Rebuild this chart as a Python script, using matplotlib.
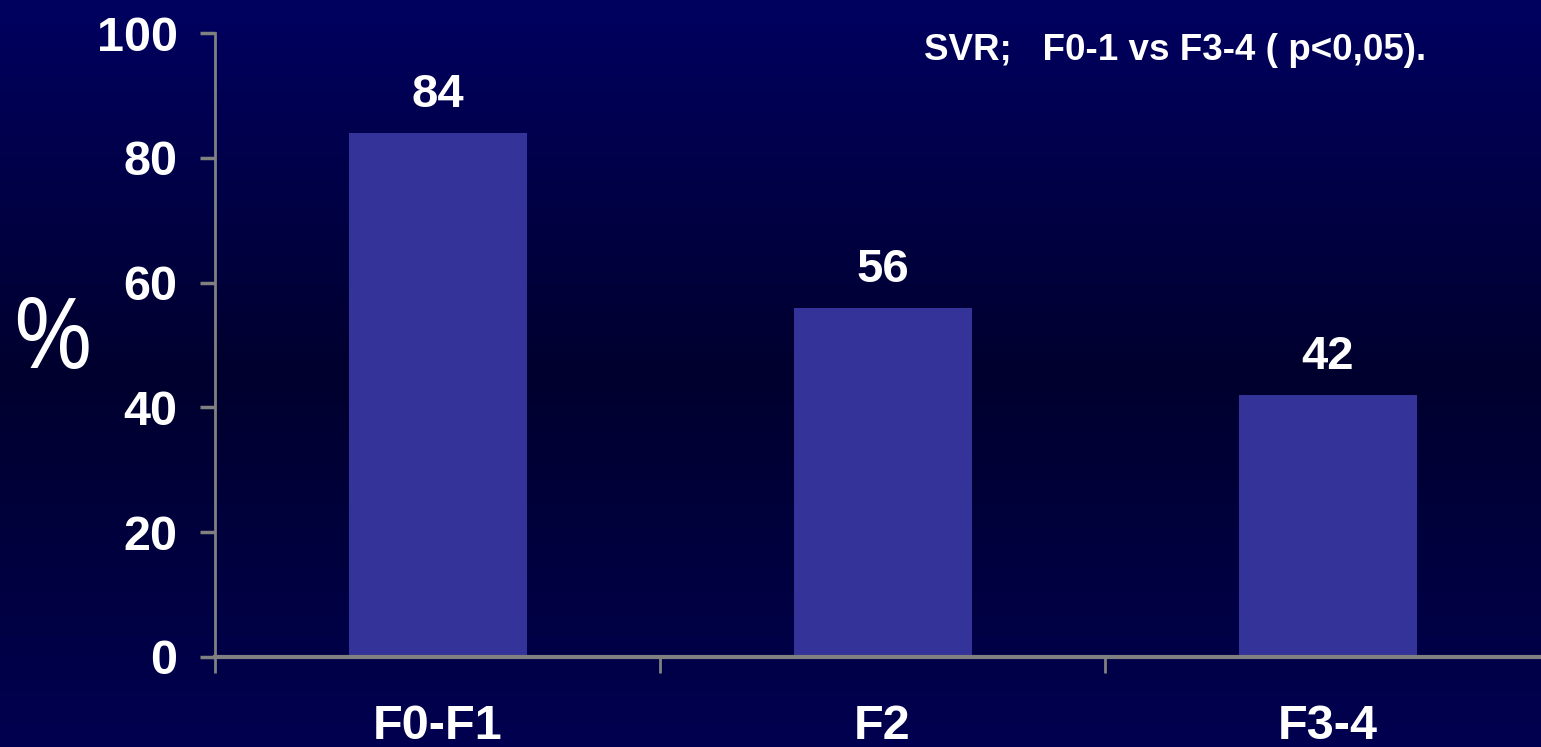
import matplotlib.pyplot as plt
import numpy as np
from matplotlib.colors import LinearSegmentedColormap

categories = ['F0-F1', 'F2', 'F3-4']
svr = [84, 56, 42]
y_ticks = [0, 20, 40, 60, 80, 100]
note = 'SVR;   F0-1 vs F3-4 ( p<0,05).'

fig = plt.figure(figsize=(15.41, 7.47), dpi=100)

# background gradient, navy top and bottom, darker in the middle
bg = fig.add_axes([0, 0, 1, 1], zorder=-1)
cmap = LinearSegmentedColormap.from_list('bg', [(0, '#000050'), (0.5, '#00002e'), (1, '#000060')])
grad = np.linspace(0, 1, 256).reshape(-1, 1)
bg.imshow(grad, aspect='auto', cmap=cmap, extent=[0, 1, 0, 1], origin='lower')
bg.axis('off')

ax = fig.add_axes([215 / 1541, 90 / 747, 1335 / 1541, 624 / 747])
ax.patch.set_alpha(0)

x = np.arange(len(categories))
ax.bar(x, svr, width=0.40, color='#333399', zorder=2)

font = 'Liberation Sans'
for xi, v in zip(x, svr):
    ax.text(xi, v + 2.5, str(v), ha='center', va='bottom', color='white',
            fontsize=34, fontweight='bold', family=font)

ax.set_xlim(-0.5, 2.5)
ax.set_ylim(0, 100)
ax.set_yticks(y_ticks)
ax.set_yticklabels([str(t) for t in y_ticks], color='white', fontsize=35,
                   fontweight='bold', family=font)
ax.set_xticks(x)
ax.set_xticklabels(categories, color='white', fontsize=35, fontweight='bold', family=font)
ax.tick_params(axis='x', length=0, pad=34)
ax.set_xticks([-0.5, 0.5, 1.5, 2.5], minor=True)
ax.tick_params(axis='x', which='minor', length=11.5, width=2, color='#808080')
ax.tick_params(axis='y', length=11, width=2.5, color='#808080', pad=16)

for s in ['top', 'right']:
    ax.spines[s].set_visible(False)
ax.spines['left'].set_color('#808080')
ax.spines['left'].set_linewidth(2)
ax.spines['bottom'].set_color('#808080')
ax.spines['bottom'].set_linewidth(3)

fig.text(52 / 1541, 1 - 343 / 747, '%', color='white', fontsize=70,
         family='Open Sans', ha='center', va='center')
fig.text(1175 / 1541, 1 - 51 / 747, note, color='white', fontsize=26.5,
         fontweight='bold', family=font, ha='center', va='center')

fig.savefig('out.png', dpi=100)
